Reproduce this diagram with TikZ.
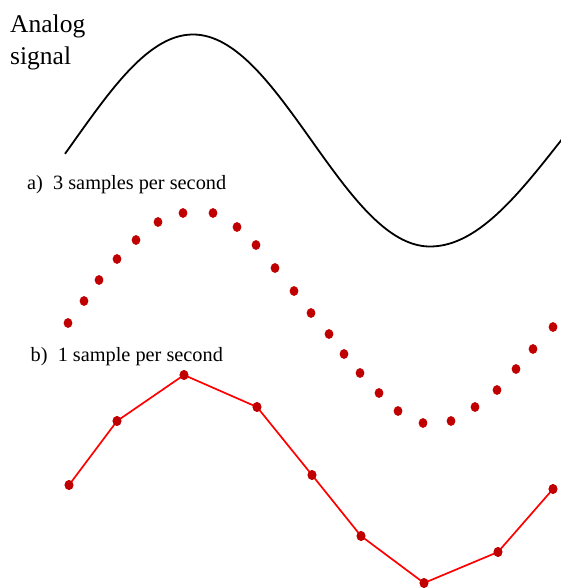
\documentclass[tikz,border=0pt]{standalone}
\usepackage{fontspec}
\setmainfont{LiberationSerif-Regular.ttf}
\newfontfamily\tnr{LiberationSerif-Regular.ttf}
\usetikzlibrary{shapes.geometric}
\definecolor{dotred}{RGB}{192,0,0}
\definecolor{linered}{RGB}{255,0,0}
\tikzset{
  sdot/.style={ellipse, fill=dotred, draw=none, inner sep=0pt, minimum width=8.8pt, minimum height=9.8pt},
  bigtext/.style={anchor=base west, inner sep=0pt, font=\tnr\fontsize{25.5}{30}\selectfont},
  smalltext/.style={anchor=base west, inner sep=0pt, font=\tnr\fontsize{20.3}{24}\selectfont},
  analog/.style={line width=1.8pt, black},
  link/.style={line width=1.7pt, linered}
}
\begin{document}
\begin{tikzpicture}[x=1pt,y=-1pt]
\useasboundingbox (0,0) rectangle (560,588);
% labels
\node[bigtext] (t1) at (10,33) {Analog};
\node[bigtext] (t2) at (10,65) {signal};
\node[smalltext] (ta) at (27,189.5) {a)\ \ 3 samples per second};
\node[smalltext] (tb) at (30.5,361) {b)\ \ 1 sample per second};
% analog curve
\draw[analog] plot[domain=65:430, samples=120, smooth] (\x, {140.5-106*cos((\x-193)/118.5*90)})
  -- plot[domain=430:562, samples=50, smooth] (\x, {140.5+106*cos((\x-430)/131*90)});
% (a) samples
\foreach \p [count=\i] in {(68,323),(84,301),(99,280),(117,259),(136,240),(158,222),(183,213),(213,213),(237,227),(256,245),(275,268),(294,291),(311,313),(329,334),(344,354),(360,373),(379,393),(398,411),(423,423),(451,421),(475,407),(497,390),(516,369),(533,349),(553,327)}
  \node[sdot] (a\i) at \p {};
% (b) samples
\node[sdot] (b1) at (69,485) {};
\node[sdot] (b2) at (117,421) {};
\node[sdot] (b3) at (184,375) {};
\node[sdot] (b4) at (257,407) {};
\node[sdot] (b5) at (312,475) {};
\node[sdot] (b6) at (361,536) {};
\node[sdot] (b7) at (424,583) {};
\node[sdot] (b8) at (498,552) {};
\node[sdot] (b9) at (553,489) {};
\draw[link] (b1.center) -- (b2.center) -- (b3.center) -- (b4.center) -- (b5.center) -- (b6.center) -- (b7.center) -- (b8.center) -- (b9.center);
\foreach \i in {1,...,9} \node[sdot] at (b\i) {};
\end{tikzpicture}
\end{document}
